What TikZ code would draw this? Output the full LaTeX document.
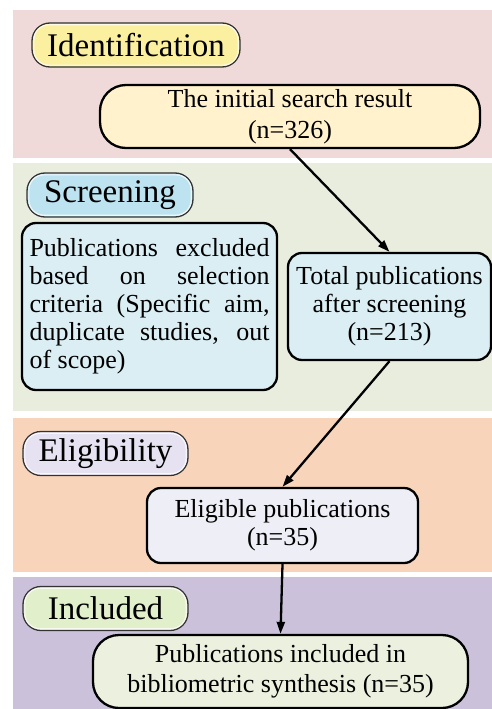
\documentclass[tikz,border=0pt]{standalone}
\usepackage{fontspec}
\setmainfont{Liberation Serif}
\usetikzlibrary{arrows.meta}

\definecolor{bandId}{HTML}{EFDAD9}
\definecolor{bandSc}{HTML}{E8EDDE}
\definecolor{bandEl}{HTML}{F8D5BA}
\definecolor{bandIn}{HTML}{CBC1DA}
\definecolor{pillId}{HTML}{FBEFA0}
\definecolor{pillSc}{HTML}{BDE3F0}
\definecolor{pillEl}{HTML}{E6E2F2}
\definecolor{pillIn}{HTML}{E2EFCB}
\definecolor{boxId}{HTML}{FFF2CC}
\definecolor{boxSc}{HTML}{DAEEF4}
\definecolor{boxEl}{HTML}{EEEEF6}
\definecolor{boxIn}{HTML}{EBF1DE}

\tikzset{
  stagepill/.style={draw=black!80, line width=1.3pt, rounded corners=18pt,
    minimum height=44pt, inner sep=0pt,
    font=\fontsize{33}{36}\selectfont},
  bevel/.style={draw=white, line width=1.2pt, opacity=0.75, rounded corners=15pt},
  flowbox/.style={draw=black, line width=2.3pt, rounded corners=14pt, inner sep=0pt,
    align=center, font=\fontsize{26}{28}\selectfont},
  roundbox/.style={flowbox, rounded corners=26pt},
  flow/.style={line width=2.3pt, -{Triangle[length=12pt,width=8pt]}}
}

\begin{document}
\begin{tikzpicture}[x=1pt,y=-1pt]
\useasboundingbox (0,0) rectangle (492,709);

% stage bands
\fill[bandId] (13,10) rectangle (492,158);
\fill[bandSc] (13,163) rectangle (492,411);
\fill[bandEl] (13,418) rectangle (492,572);
\fill[bandIn] (13,577) rectangle (492,709);

% stage labels
\node[stagepill, fill=pillId, minimum width=208pt] (lid) at (136,45) {Identification};
\node[stagepill, fill=pillSc, minimum width=166pt] (lsc) at (110,195) {Screening};
\node[stagepill, fill=pillEl, minimum width=165pt] (lel) at (105.5,453.5) {Eligibility};
\node[stagepill, fill=pillIn, minimum width=165pt] (lin) at (105.5,608.5) {Included};
\foreach \p in {lid,lsc,lel,lin}
  \draw[bevel] ([shift={(2.5,2.5)}]\p.north west) rectangle ([shift={(-2.5,-2.5)}]\p.south east);

% flow boxes
\node[roundbox, fill=boxId, minimum width=380pt, minimum height=63pt,
      font=\fontsize{26}{31}\selectfont] (init) at (290,116.5)
  {The initial search result\\(n=326)};
\node[flowbox, fill=boxSc, minimum width=255pt, minimum height=167pt,
      text width=240pt, align=justify] (excl) at (149.5,306.5)
  {Publications excluded\linebreak based on selection\linebreak
   criteria (Specific aim,\linebreak duplicate studies, out\linebreak of scope)};
\node[flowbox, fill=boxSc, minimum width=203pt, minimum height=107pt] (total) at (389.5,306.5)
  {Total publications\\after screening\\(n=213)};
\node[flowbox, fill=boxEl, minimum width=271pt, minimum height=75pt] (elig) at (282.5,525.5)
  {Eligible publications\\(n=35)};
\node[roundbox, fill=boxIn, minimum width=375pt, minimum height=73pt,
      font=\fontsize{26}{30}\selectfont] (incl) at (280.5,671.5)
  {Publications included in\\bibliometric synthesis (n=35)};

% connectors
\draw[flow] (init.south) -- (total.north);
\draw[flow] (total.south) -- (elig.north);
\draw[flow] (elig.south) -- (incl.north);
\end{tikzpicture}
\end{document}
